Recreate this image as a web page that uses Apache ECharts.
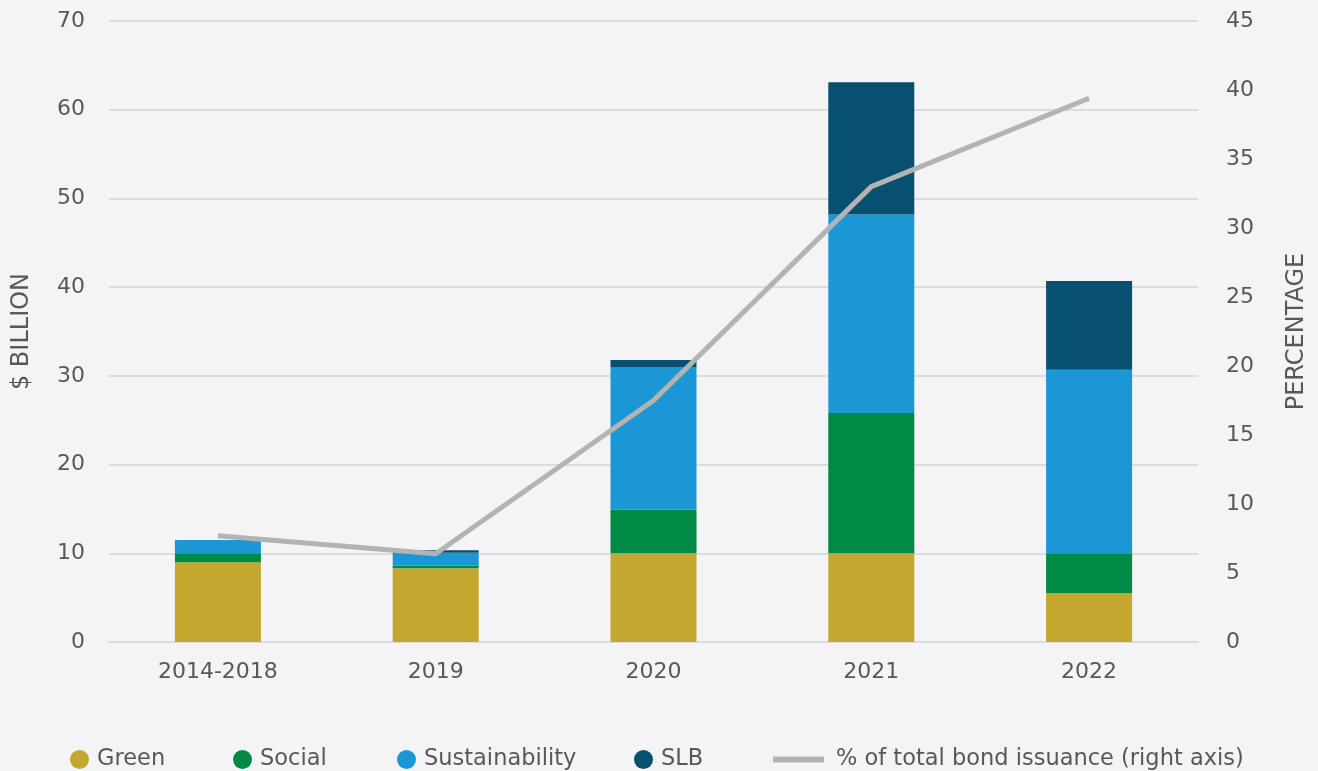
<!DOCTYPE html>
<html>
<head>
<meta charset="utf-8">
<script src="https://cdn.jsdelivr.net/npm/echarts@6/dist/echarts.min.js"></script>
<style>
  html, body { margin: 0; padding: 0; background: #F4F4F6; }
  #chart { width: 1318px; height: 771px; }
</style>
</head>
<body>
<div id="chart"></div>
<script>
// Bond issuance by type ($ billion) and share of total bond issuance (%)
const categories = ['2014-2018', '2019', '2020', '2021', '2022'];
const green = [9.0, 8.3, 10.0, 10.0, 5.5];
const social = [1.0, 0.3, 4.9, 15.8, 4.5];
const sustainability = [1.5, 1.45, 16.1, 22.4, 20.7];
const slb = [0, 0.3, 0.8, 14.9, 10.0];
const shareOfTotal = [7.7, 6.4, 17.5, 33.0, 39.4];

const leftTicks = { min: 0, max: 70, interval: 10 };
const rightTicks = { min: 0, max: 45, interval: 5 };

const FONT = 'DejaVu Sans';
const TEXT = '#58585A';
const GRID_LINE = '#DCDCDC';

const colors = {
  Green: '#C3A72E',
  Social: '#008A45',
  Sustainability: '#1C97D6',
  SLB: '#07506F',
  line: '#B3B3B3'
};

function barSeries(name, data) {
  return {
    name: name,
    type: 'bar',
    stack: 'total',
    barWidth: 86,
    data: data,
    itemStyle: { color: colors[name] },
    emphasis: { disabled: true }
  };
}

const legendText = { fontFamily: FONT, fontSize: 22.5, color: TEXT, padding: [0, 0, 0, 3] };

function legendItem(name, left, opts) {
  return Object.assign({
    data: [name],
    left: left,
    top: 743,
    icon: 'circle',
    itemWidth: 19,
    itemHeight: 21,
    textStyle: legendText,
    selectedMode: false
  }, opts || {});
}

const lineName = '% of total bond issuance (right axis)';

const option = {
  backgroundColor: '#F4F4F6',
  animation: false,
  grid: { left: 109, right: 120, top: 21, bottom: 129 },
  legend: [
    legendItem('Green', 65),
    legendItem('Social', 228),
    legendItem('Sustainability', 392),
    legendItem('SLB', 629),
    legendItem(lineName, 768, {
      icon: 'rect', itemWidth: 51, itemHeight: 6,
      itemStyle: { color: colors.line },
      textStyle: Object.assign({}, legendText, { padding: [0, 0, 0, 7] })
    })
  ],
  xAxis: {
    type: 'category',
    data: categories,
    axisLine: { lineStyle: { color: GRID_LINE, width: 2 } },
    axisTick: { show: false },
    axisLabel: { fontFamily: FONT, fontSize: 22, color: TEXT, margin: 19 }
  },
  yAxis: [
    {
      type: 'value',
      min: leftTicks.min, max: leftTicks.max, interval: leftTicks.interval,
      name: '$ BILLION',
      nameLocation: 'middle',
      nameGap: 75,
      nameTextStyle: { fontFamily: FONT, fontSize: 24, color: TEXT },
      axisLine: { show: false },
      axisTick: { show: false },
      axisLabel: { fontFamily: FONT, fontSize: 22, color: TEXT, margin: 24 },
      splitLine: { lineStyle: { color: GRID_LINE, width: 2 } }
    },
    {
      type: 'value',
      position: 'right',
      min: rightTicks.min, max: rightTicks.max, interval: rightTicks.interval,
      name: 'PERCENTAGE',
      nameLocation: 'middle',
      nameGap: 87,
      nameTextStyle: { fontFamily: FONT, fontSize: 24, color: TEXT },
      axisLine: { show: false },
      axisTick: { show: false },
      axisLabel: { fontFamily: FONT, fontSize: 22, color: TEXT, margin: 28 },
      splitLine: { show: false }
    }
  ],
  series: [
    barSeries('Green', green),
    barSeries('Social', social),
    barSeries('Sustainability', sustainability),
    barSeries('SLB', slb),
    {
      name: lineName,
      type: 'line',
      yAxisIndex: 1,
      data: shareOfTotal,
      symbol: 'none',
      lineStyle: { color: colors.line, width: 5 },
      itemStyle: { color: colors.line },
      emphasis: { disabled: true },
      z: 5
    }
  ]
};

const chart = echarts.init(document.getElementById('chart'), null, { renderer: 'canvas' });
chart.setOption(option);
</script>
</body>
</html>
